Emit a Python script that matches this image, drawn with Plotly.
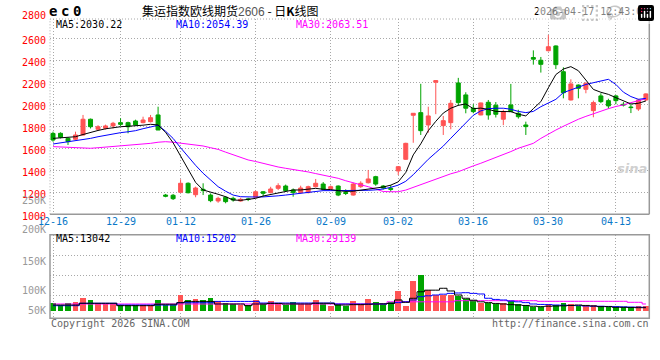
import plotly.graph_objects as go

# ---------------- data ----------------
dates = ["12-16", "12-17", "12-18", "12-19", "12-22", "12-23", "12-24", "12-25", "12-26", "12-29",
         "12-30", "12-31", "01-05", "01-06", "01-07", "01-08", "01-09", "01-12", "01-13", "01-14",
         "01-15", "01-16", "01-19", "01-20", "01-21", "01-22", "01-23", "01-26", "01-27", "01-28",
         "01-29", "01-30", "02-02", "02-03", "02-04", "02-05", "02-06", "02-09", "02-10", "02-11",
         "02-12", "02-13", "02-24", "02-25", "02-26", "02-27", "03-02", "03-03", "03-04", "03-05",
         "03-06", "03-09", "03-10", "03-11", "03-12", "03-13", "03-16", "03-17", "03-18", "03-19",
         "03-20", "03-23", "03-24", "03-25", "03-26", "03-27", "03-30", "03-31", "04-01", "04-02",
         "04-03", "04-07", "04-08", "04-09", "04-10", "04-13", "04-14", "04-15", "04-16", "04-17"]

opens = [1735, 1736, 1690, 1682, 1721, 1864, 1773, 1782, 1803, 1833,
         1833, 1848, 1833, 1842, 1903, 1175, 1173, 1200, 1282, 1178,
         1227, 1175, 1121, 1155, 1145, 1121, 1140, 1155, 1205, 1197,
         1236, 1257, 1221, 1197, 1197, 1251, 1275, 1233, 1257, 1197,
         1175, 1251, 1287, 1342, 1257, 1236, 1394, 1500, 1900, 1924,
         1812, 2200, 1806, 1833, 2194, 2085, 1964, 1903, 2018, 1991,
         1864, 1994, 1918, 1812, 2425, 2400, 2487, 2530, 2296, 2039,
         2175, 2136, 1942, 2076, 2033, 2076, 2000, 1975, 1957, 2039]
highs = [1751, 1745, 1700, 1751, 1903, 1870, 1810, 1815, 1840, 1873,
         1842, 1860, 1887, 1903, 1978, 1185, 1185, 1318, 1290, 1251,
         1282, 1190, 1160, 1165, 1160, 1150, 1150, 1215, 1210, 1250,
         1282, 1270, 1235, 1260, 1260, 1321, 1293, 1262, 1262, 1227,
         1287, 1300, 1403, 1350, 1266, 1266, 1435, 1650, 1920, 2186,
         1978, 2220, 1894, 2039, 2240, 2109, 2000, 2015, 2039, 2020,
         1950, 2185, 1950, 1842, 2490, 2430, 2630, 2535, 2336, 2227,
         2180, 2200, 2033, 2100, 2050, 2085, 2020, 2000, 2050, 2100]
lows = [1660, 1690, 1630, 1675, 1715, 1780, 1760, 1770, 1780, 1803,
        1736, 1810, 1827, 1835, 1766, 1155, 1130, 1195, 1190, 1155,
        1175, 1110, 1105, 1100, 1115, 1115, 1120, 1150, 1160, 1190,
        1220, 1210, 1160, 1190, 1190, 1245, 1215, 1225, 1165, 1175,
        1170, 1240, 1280, 1260, 1225, 1205, 1357, 1495, 1650, 1721,
        1742, 1910, 1721, 1773, 1987, 1918, 1918, 1900, 1860, 1880,
        1810, 1930, 1870, 1721, 2360, 2288, 2480, 2320, 2054, 2035,
        2054, 2100, 1882, 2010, 1960, 2000, 1980, 1920, 1940, 2030]
closes = [1675, 1700, 1660, 1721, 1864, 1796, 1796, 1803, 1827, 1818,
          1796, 1812, 1857, 1878, 1766, 1165, 1142, 1282, 1196, 1239,
          1215, 1124, 1145, 1115, 1130, 1136, 1135, 1205, 1191, 1230,
          1260, 1215, 1197, 1239, 1251, 1282, 1227, 1251, 1175, 1190,
          1275, 1282, 1321, 1275, 1239, 1227, 1433, 1645, 1918, 1760,
          1894, 2215, 1851, 2009, 2015, 1964, 1933, 2012, 1903, 1909,
          1933, 1933, 1887, 1797, 2410, 2363, 2523, 2360, 2105, 2185,
          2145, 2191, 2015, 2024, 1985, 2033, 1994, 1970, 2039, 2094]

ma5 = [1690, 1695, 1700, 1705, 1725, 1745, 1762, 1777, 1788, 1796,
       1800, 1803, 1810, 1818, 1812, 1745, 1650, 1530, 1403, 1290,
       1221, 1205, 1182, 1160, 1130, 1127, 1136, 1145, 1166, 1180,
       1197, 1212, 1221, 1221, 1227, 1236, 1227, 1225, 1215, 1208,
       1210, 1220, 1232, 1240, 1248, 1265, 1295, 1380, 1540, 1640,
       1760, 1845, 1920, 1964, 1990, 2003, 1960, 1965, 1954, 1935,
       1933, 1933, 1910, 1894, 1960, 2024, 2150, 2270, 2320, 2342,
       2305, 2221, 2135, 2109, 2090, 2060, 2030, 2003, 2009, 2030]
ma10 = [1639, 1648, 1658, 1669, 1680, 1690, 1705, 1718, 1730, 1742,
        1750, 1760, 1778, 1796, 1809, 1755, 1690, 1605, 1524, 1445,
        1373, 1312, 1251, 1210, 1175, 1160, 1157, 1157, 1158, 1160,
        1168, 1175, 1183, 1191, 1198, 1205, 1215, 1215, 1215, 1215,
        1215, 1215, 1218, 1222, 1230, 1245, 1265, 1300, 1360, 1430,
        1500, 1560, 1620, 1691, 1760, 1830, 1900, 1940, 1960, 1964,
        1964, 1955, 1935, 1924, 1935, 1978, 2015, 2045, 2106, 2130,
        2160, 2180, 2196, 2210, 2227, 2180, 2110, 2070, 2045, 2054]
ma30 = [1615, 1612, 1608, 1605, 1602, 1600, 1605, 1610, 1615, 1621,
        1628, 1635, 1640, 1645, 1655, 1660, 1655, 1648, 1640, 1632,
        1621, 1605, 1590, 1565, 1540, 1515, 1494, 1480, 1462, 1445,
        1430, 1418, 1409, 1400, 1385, 1370, 1355, 1343, 1327, 1305,
        1283, 1268, 1251, 1228, 1207, 1205, 1205, 1220, 1245, 1275,
        1300, 1320, 1345, 1368, 1387, 1410, 1440, 1464, 1490, 1515,
        1539, 1570, 1600, 1625, 1645, 1690, 1730, 1766, 1800, 1835,
        1864, 1890, 1915, 1939, 1960, 1980, 1994, 2015, 2033, 2050]

volumes = [31800, 26100, 31800, 34300, 44300, 38600, 30400, 28600, 28600, 26100,
           26100, 26100, 26100, 26100, 38600, 26100, 26100, 51000, 38600, 41000,
           38600, 43500, 36800, 32800, 30400, 26100, 26100, 38600, 28600, 36000,
           30400, 26100, 33600, 30400, 28600, 38600, 28600, 23600, 30400, 23600,
           36000, 30400, 42800, 33600, 30400, 33600, 61000, 23600, 85800, 100800,
           63400, 51000, 51000, 51000, 48500, 42800, 38600, 31800, 31800, 30400,
           31800, 36800, 28600, 26100, 21900, 21900, 28600, 26100, 31800, 28600,
           23600, 23600, 26100, 23600, 21900, 21900, 21900, 21900, 23600, 23600]
vol_ma5 = [26000, 26000, 26000, 26000, 30400, 30400, 30400, 30400, 30400, 24400,
           24400, 24400, 24400, 24400, 28000, 28000, 28000, 31800, 35000, 35000,
           35000, 35000, 28600, 28600, 28600, 28600, 24400, 28600, 28600, 30000,
           30000, 28600, 28600, 28600, 28600, 30400, 30400, 30400, 26000, 26000,
           27000, 27000, 28000, 28500, 29000, 30000, 38600, 32800, 42800, 59000,
           63000, 63000, 67700, 61000, 51000, 42800, 38000, 34000, 32000, 30000,
           28600, 27000, 26100, 25000, 23000, 22000, 23000, 23600, 24000, 25000,
           26100, 25000, 23600, 22000, 22000, 20400, 20400, 20000, 19400, 19400]
vol_ma10 = [24400, 24400, 24400, 24400, 30400, 30400, 30400, 30400, 30400, 26000,
            26000, 26000, 26000, 26000, 26000, 26000, 26000, 31800, 31800, 31800,
            31800, 31800, 35000, 35000, 35000, 35000, 35000, 35000, 31000, 31000,
            31000, 31000, 31000, 31000, 31000, 31000, 31000, 31000, 28600, 28600,
            28600, 28600, 28600, 28600, 28600, 30000, 32000, 34000, 38600, 46800,
            49000, 51000, 53000, 55000, 56000, 56700, 55000, 53500, 42800, 40000,
            38600, 36000, 34000, 32000, 28600, 27500, 27000, 26100, 25500, 25000,
            24500, 23600, 23300, 23000, 22500, 22000, 21500, 21000, 20700, 20400]
vol_ma30 = [28600] * 45 + [34000] * 9 + [36800] * 11 + [35300] * 12 + [32800, 32800, 28600]

tick_dates = ["12-16", "12-29", "01-12", "01-26", "02-09", "03-02", "03-16", "03-30", "04-13"]
price_ticks = [1000, 1200, 1400, 1600, 1800, 2000, 2200, 2400, 2600]
vol_labels = ["250K", "200K", "150K", "100K", "50K"]

header_ma = ["MA5:2030.22", "MA10:2054.39", "MA30:2063.51"]
header_vol = ["MA5:13042", "MA10:15202", "MA30:29139"]

# ---------------- styling ----------------
W, H = 660, 360
RED = "#ff5454"
GREEN = "#00a400"
GRID = "#a8a8a8"
BORDER = "#999999"
MONO = "DejaVu Sans Mono"
MA_COLORS = ["#000000", "#0000ff", "#ff00ff"]

X0, X1 = 50, 649.3
MAIN_TOP, MAIN_BOT = 19, 214.3
VOL_TOP, VOL_BOT = 234.7, 318.3
VOL_BASE = 12000


def px(x):
    return x / W


def py(y):
    return 1 - y / H


fig = go.Figure()

fig.add_trace(go.Candlestick(
    x=dates, open=opens, high=highs, low=lows, close=closes,
    increasing=dict(line=dict(color=RED, width=1), fillcolor=RED),
    decreasing=dict(line=dict(color=GREEN, width=1), fillcolor=GREEN),
    whiskerwidth=0, hoverinfo="skip", xaxis="x", yaxis="y"))

for vals, col in zip([ma30, ma10, ma5], [MA_COLORS[2], MA_COLORS[1], MA_COLORS[0]]):
    fig.add_trace(go.Scatter(x=dates, y=vals, mode="lines",
                             line=dict(color=col, width=1), hoverinfo="skip",
                             xaxis="x", yaxis="y"))

bar_colors = [RED if c >= o else GREEN for o, c in zip(opens, closes)]
fig.add_trace(go.Bar(x=dates, y=[v - VOL_BASE for v in volumes], base=VOL_BASE,
                     marker=dict(color=bar_colors, line=dict(width=0)),
                     width=0.76, hoverinfo="skip", xaxis="x2", yaxis="y2"))

for vals, col in zip([vol_ma30, vol_ma10, vol_ma5], [MA_COLORS[2], MA_COLORS[1], MA_COLORS[0]]):
    fig.add_trace(go.Scatter(x=dates, y=vals, mode="lines",
                             line=dict(color=col, width=1, shape="hvh"), hoverinfo="skip",
                             xaxis="x2", yaxis="y2"))

axis_common = dict(type="category", categoryorder="array", categoryarray=dates,
                   range=[-0.4, len(dates) - 1 + 0.45], showgrid=True,
                   gridcolor=GRID, griddash="1px,2px", gridwidth=1,
                   tickvals=tick_dates, zeroline=False, showline=False, ticks="",
                   showticklabels=False, fixedrange=True, automargin=False)

fig.update_layout(
    width=W, height=H,
    margin=dict(l=0, r=0, t=0, b=0, autoexpand=False),
    paper_bgcolor="white", plot_bgcolor="white",
    showlegend=False, boxgap=0.24, bargap=0,
    xaxis=dict(domain=[px(X0), px(X1)], anchor="y", rangeslider=dict(visible=False),
               **axis_common),
    yaxis=dict(domain=[py(MAIN_BOT), py(MAIN_TOP)], anchor="x", range=[1000, 2775],
               tickvals=price_ticks, tickfont=dict(family=MONO, size=10, color="#ff0000"),
               showgrid=True, gridcolor=GRID, griddash="1px,2px", zeroline=False,
               showline=False, ticks="", ticklabelstandoff=3, ticklabelshift=2,
               ticklabeloverflow="allow", fixedrange=True, automargin=False),
    xaxis2=dict(domain=[px(X0), px(X1)], anchor="y2", matches="x", **axis_common),
    yaxis2=dict(domain=[py(VOL_BOT), py(VOL_TOP)], anchor="x2", range=[-7000, 201000],
                tickvals=[50000, 100000, 150000], showticklabels=False,
                showgrid=True, gridcolor=GRID, griddash="1px,2px", zeroline=False,
                showline=False, ticks="", fixedrange=True, automargin=False),
)

# panel borders
shapes = []
line_solid = dict(color=BORDER, width=1.5)
shapes.append(dict(type="line", xref="paper", yref="paper", x0=px(X0), x1=px(X1),
                   y0=py(MAIN_TOP), y1=py(MAIN_TOP), line=dict(color=GRID, width=1, dash="1px,2px")))
shapes.append(dict(type="line", xref="paper", yref="paper", x0=px(X0), x1=px(X1),
                   y0=py(MAIN_BOT), y1=py(MAIN_BOT), line=line_solid))
shapes.append(dict(type="line", xref="paper", yref="paper", x0=px(X1), x1=px(X1),
                   y0=py(MAIN_BOT), y1=py(MAIN_TOP), line=line_solid))
shapes.append(dict(type="line", xref="paper", yref="paper", x0=px(X0), x1=px(X0),
                   y0=py(MAIN_BOT), y1=py(MAIN_TOP), line=dict(color=GRID, width=1, dash="1px,2px")))
shapes.append(dict(type="rect", xref="paper", yref="paper", x0=px(X0), x1=px(X1),
                   y0=py(VOL_BOT), y1=py(VOL_TOP), line=line_solid))
fig.update_layout(shapes=shapes)

ann = []


def text(x, y, s, color="#000000", size=10, family=MONO, xanchor="left", bold=False):
    if bold:
        s = "<b>" + s + "</b>"
    ann.append(dict(x=px(x), y=py(y), xref="paper", yref="paper", text=s, showarrow=False,
                    xanchor=xanchor, yanchor="middle", borderpad=0,
                    font=dict(family=family, size=size, color=color)))


# date labels under the price panel, positioned on the category axis
for d in tick_dates:
    ann.append(dict(x=d, y=py(221.7), xref="x", yref="paper", text=d, showarrow=False,
                    xanchor="center", yanchor="middle", borderpad=0,
                    font=dict(family=MONO, size=10, color="#0a78c8")))

# header
for ch, cx in zip("ec0", [53, 65, 77]):
    ann.append(dict(x=px(cx), y=py(11), xref="paper", yref="paper", text="<b>" + ch + "</b>",
                    showarrow=False, xanchor="center", yanchor="middle",
                    font=dict(family=MONO, size=14, color="#000000")))
text(141, 10.8, "集运指数欧线期货<span style='color:#555555;font-family:Liberation Sans'>2606</span> - 日<b>K</b>线图",
     size=12, family="Noto Sans CJK SC")
text(648.5, 12, "2026-04-17 12:43:04", xanchor="right")

# MA legends
for s, x, c in zip(header_ma, [55, 175, 295], MA_COLORS):
    text(x, 24.5, s, color=c)
for s, x, c in zip(header_vol, [55, 175, 295], MA_COLORS):
    text(x, 238.5, s, color=c)

# extra axis labels
text(46.5, 15.7, "2800", color="#ff0000", xanchor="right")
for s, y in zip(vol_labels, [200.7, 230, 261.7, 290.7, 310.7]):
    text(46.5, y, s, color="#999999", xanchor="right")

# footer
text(50, 323.5, "Copyright 2026 SINA.COM", color="#666666")
text(649.5, 323.5, "http://finance.sina.com.cn", color="#666666", xanchor="right")

# watermark
text(632, 168, "<i>sina</i>", color="#d0d0d0", size=13, family="DejaVu Sans", xanchor="center", bold=True)

fig.update_layout(annotations=ann)

fig.write_html("out.html",
               post_script="document.body.style.margin='0px';document.body.style.padding='0px';")
